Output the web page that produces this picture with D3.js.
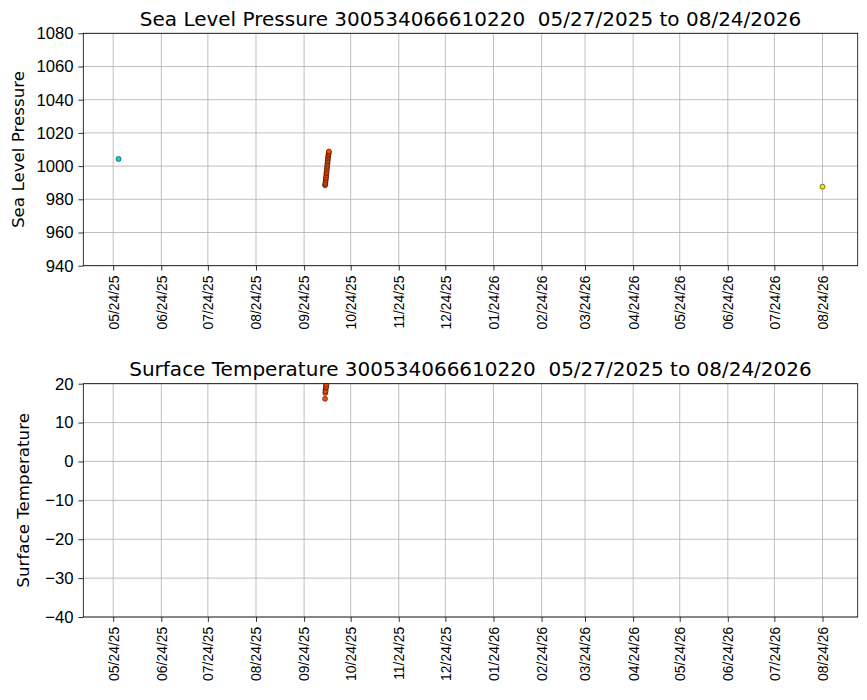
<!DOCTYPE html>
<html>
<head>
<meta charset="utf-8">
<script src="https://cdn.jsdelivr.net/npm/d3@7"></script>
<style>
  body { margin: 0; background: #fff; }
  svg { font-family: "DejaVu Sans", sans-serif; }
</style>
</head>
<body>
<div id="chart"></div>
<script>
//defaults for the figure
const width = 867
const height = 700
const left = 83.3
const right = 857.7
const radius = 2.5
const buoyId = "300534066610220"
const dateRange = "05/27/2025 to 08/24/2026"

// first report (cyan)
const cyanTimes = ["2025-05-27T10:00"]
const cyanPressure = [1004.3]

// the october burst (orange)
const orangeTimes = [
  "2025-10-07T12:00", "2025-10-07T15:00", "2025-10-07T18:00", "2025-10-07T21:00",
  "2025-10-08T00:00", "2025-10-08T03:00", "2025-10-08T06:00", "2025-10-08T09:00",
  "2025-10-08T12:00", "2025-10-08T15:00", "2025-10-08T18:00", "2025-10-08T21:00",
  "2025-10-09T00:00", "2025-10-09T03:00", "2025-10-09T06:00", "2025-10-09T09:00",
  "2025-10-09T12:00", "2025-10-09T15:00", "2025-10-09T18:00", "2025-10-09T21:00",
  "2025-10-10T00:00"
]
const orangePressure = [
  988.4, 989.1, 990.0, 991.2, 992.3, 993.1, 994.4, 995.6, 996.5, 997.8, 998.9,
  1000.1, 1001.2, 1002.4, 1003.3, 1004.6, 1005.5, 1006.4, 1007.3, 1008.2, 1008.8
]
const orangeTemp = [
  16.1, 17.6, 18.4, 18.1, 18.9, 19.5, 19.2, 19.8, 20.6, 21.3, 21.9,
  22.4, 22.8, 23.1, 23.5, 23.2, 23.8, 24.1, 24.4, 24.0, 24.6
]

// last report (yellow)
const yellowTimes = ["2026-08-24T00:00"]
const yellowPressure = [987.6]

// ticks
const xTickDates = [
  "2025-05-24", "2025-06-24", "2025-07-24", "2025-08-24", "2025-09-24", "2025-10-24",
  "2025-11-24", "2025-12-24", "2026-01-24", "2026-02-24", "2026-03-24", "2026-04-24",
  "2026-05-24", "2026-06-24", "2026-07-24", "2026-08-24"
]
const pressureTicks = [940, 960, 980, 1000, 1020, 1040, 1060, 1080]
const tempTicks = [-40, -30, -20, -10, 0, 10, 20]

const parseTime = d3.utcParse("%Y-%m-%dT%H:%M")
const parseDay = d3.utcParse("%Y-%m-%d")
const tickFormat = d3.utcFormat("%m/%d/%y")

const chart = d3.select('#chart')
  .append('svg')
  .attr('width', width)
  .attr('height', height)

// x scale shared by both panels, 5% padding like matplotlib
const allTimes = [...cyanTimes, ...orangeTimes, ...yellowTimes].map(parseTime)
const tMin = d3.min(allTimes)
const tMax = d3.max(allTimes)
const pad = (tMax - tMin) * 0.05
const xScale = d3.scaleUtc()
  .domain([new Date(+tMin - pad), new Date(+tMax + pad)])
  .range([left, right])

const panels = [
  {
    id: 'pressure',
    title: "Sea Level Pressure " + buoyId + "  " + dateRange,
    label: "Sea Level Pressure",
    top: 33.3, bottom: 265.7, labelX: 23.5,
    ticks: pressureTicks,
    series: [
      { color: '#00d6e4', times: cyanTimes, values: cyanPressure },
      { color: '#ff4800', times: orangeTimes, values: orangePressure },
      { color: '#f2e414', times: yellowTimes, values: yellowPressure }
    ]
  },
  {
    id: 'temp',
    title: "Surface Temperature " + buoyId + "  " + dateRange,
    label: "Surface Temperature",
    top: 383.7, bottom: 617, labelX: 28.5,
    ticks: tempTicks,
    series: [
      { color: '#ff4800', times: orangeTimes, values: orangeTemp }
    ]
  }
]

const drawPanel = function (p) {
  const yScale = d3.scaleLinear()
    .domain([d3.min(p.ticks), d3.max(p.ticks)])
    .range([p.bottom, p.top])

  const g = chart.append('g').attr('id', p.id)

  // grid
  g.append('g').selectAll('line')
    .data(xTickDates.map(parseDay))
    .enter().append('line')
    .attr('x1', d => xScale(d)).attr('x2', d => xScale(d))
    .attr('y1', p.top).attr('y2', p.bottom)
    .attr('stroke', '#b0b0b0').attr('stroke-width', 0.8)

  g.append('g').selectAll('line')
    .data(p.ticks)
    .enter().append('line')
    .attr('x1', left).attr('x2', right)
    .attr('y1', d => yScale(d)).attr('y2', d => yScale(d))
    .attr('stroke', '#b0b0b0').attr('stroke-width', 0.8)

  // clip the dots to the axes box
  chart.append('clipPath').attr('id', 'clip-' + p.id)
    .append('rect')
    .attr('x', left).attr('y', p.top)
    .attr('width', right - left).attr('height', p.bottom - p.top)

  const dots = g.append('g').attr('clip-path', 'url(#clip-' + p.id + ')')
  p.series.forEach(s => {
    dots.selectAll(null)
      .data(s.times.map((t, i) => ({ t: parseTime(t), v: s.values[i] })))
      .enter().append('circle')
      .attr('cx', d => xScale(d.t))
      .attr('cy', d => yScale(d.v))
      .attr('r', radius)
      .attr('fill', s.color)
      .attr('stroke', '#000')
      .attr('stroke-width', 0.5)
  })

  // axes
  const xAxis = d3.axisBottom(xScale)
    .tickValues(xTickDates.map(parseDay))
    .tickFormat(tickFormat)
    .tickSize(4.9).tickPadding(4.9)
  const yAxis = d3.axisLeft(yScale)
    .tickValues(p.ticks)
    .tickFormat(d => d < 0 ? "\u2212" + Math.abs(d) : d)
    .tickSize(4.9).tickPadding(4.9)

  const gx = g.append('g')
    .attr('transform', 'translate(0,' + p.bottom + ')')
    .call(xAxis)
  gx.select('.domain').remove()
  gx.selectAll('line').attr('stroke', '#000').attr('stroke-width', 0.8)
  gx.selectAll('text')
    .attr('font-size', 13.9)
    .attr('fill', '#000')
    .attr('transform', 'rotate(-90)')
    .attr('x', -9.8).attr('y', 0).attr('dy', '0.35em')
    .style('text-anchor', 'end')

  const gy = g.append('g')
    .attr('transform', 'translate(' + left + ',0)')
    .call(yAxis)
  gy.select('.domain').remove()
  gy.selectAll('line').attr('stroke', '#000').attr('stroke-width', 0.8)
  gy.selectAll('text').attr('font-size', 16.7).attr('fill', '#000')

  // frame
  g.append('rect')
    .attr('x', left).attr('y', p.top)
    .attr('width', right - left).attr('height', p.bottom - p.top)
    .attr('fill', 'none').attr('stroke', '#000').attr('stroke-width', 0.8)

  g.append('text')
    .attr('x', (left + right) / 2)
    .attr('y', p.top - 7.3)
    .attr('text-anchor', 'middle')
    .attr('font-size', 20)
    .style('white-space', 'pre')
    .text(p.title)

  g.append('text')
    .attr('transform', 'translate(' + p.labelX + ',' + ((p.top + p.bottom) / 2) + ') rotate(-90)')
    .attr('text-anchor', 'middle')
    .attr('font-size', 16.7)
    .text(p.label)
}

panels.forEach(drawPanel)
</script>
</body>
</html>
